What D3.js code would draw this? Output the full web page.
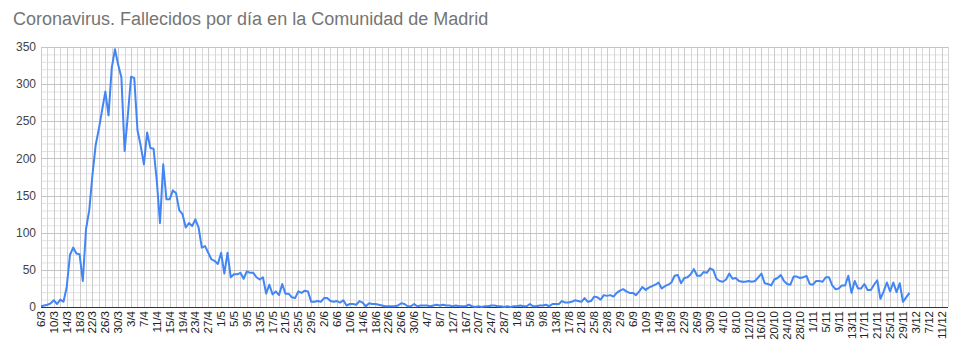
<!DOCTYPE html>
<html>
<head>
<meta charset="utf-8">
<script src="https://cdn.jsdelivr.net/npm/d3@7/dist/d3.min.js"></script>
<style>
  body { margin: 0; background: #fff; }
  svg { font-family: "Liberation Sans", Arial, sans-serif; }
</style>
</head>
<body>
<div id="okvir"></div>
<script>
// Primer dia de datos y fin del eje
var fechaInicio = new Date(2020, 2, 6);
var fechaFinEje = new Date(2020, 11, 13);
var fechaUltimaEtiqueta = new Date(2020, 11, 11);

// Fallecidos por dia desde el 6/3 (un valor por dia)
var fallecidos = [
  1, 2, 3, 5, 9, 4, 10, 7, 27, 70, 80, 72, 71, 35, 105, 130,
  178, 218, 240, 265, 290, 258, 322, 347, 326, 309, 210, 258, 310, 308, 238, 217, 192, 235, 214, 213,
  170, 113, 192, 145, 145, 157, 153, 130, 125, 107, 113, 109, 118, 107, 80, 82, 73, 64, 62, 58,
  73, 45, 73, 40, 44, 44, 46, 38, 48, 46, 46, 40, 37, 40, 18, 30, 17, 21, 16, 31,
  18, 18, 13, 12, 21, 19, 22, 21, 7, 7, 8, 7, 12, 12, 8, 7, 8, 6, 9,
  2, 4, 4, 3, 8, 6, 1, 5, 4, 4, 3, 2, 1, 1, 1, 1, 2, 5, 4, 1,
  1, 4, 1, 2, 2, 2, 1, 2, 3, 2, 3, 2, 2, 1, 2, 1, 1, 1, 3, 1,
  0, 1, 0, 1, 1, 2, 2, 1, 1, 0, 1, 0, 1, 1, 2, 1, 1, 4, 1, 1,
  2, 2, 3,
  1, 4, 4, 4, 8, 6, 6, 7, 9, 8, 7, 12, 7, 8, 14, 13, 10, 16, 15, 16, 14, 19,
  22, 24, 21, 19, 19, 16, 21, 27, 23, 26, 28, 30, 33, 25, 28, 30, 33, 42, 43, 32,
  39, 40, 44, 51, 42, 42, 47, 46, 52, 50, 38, 35, 34, 37, 45, 38, 39, 35, 34, 34,
  35, 34, 35, 40, 45, 32, 31, 29, 37, 39, 43, 35, 31, 30, 41, 41, 39, 40, 42, 31,
  30, 35, 35, 34, 40, 40, 29, 24, 25, 29, 29, 42, 19, 35, 25, 25, 31, 23, 23, 30,
  36, 11, 21, 33, 21, 33, 20, 32, 7, 13, 19
];

var ticksY = [0, 50, 100, 150, 200, 250, 300, 350];

var datos = fallecidos.map((v, i) => ({ fecha: d3.timeDay.offset(fechaInicio, i), valor: v }));

var width = 959;
var height = 352;
var margin = { top: 47, right: 11, bottom: 45, left: 41 };

var svg = d3.select("#okvir")
    .append("svg")
    .attr("width", width)
    .attr("height", height);

var x = d3.scaleTime()
    .domain([fechaInicio, fechaFinEje])
    .range([margin.left, width - margin.right]);

var y = d3.scaleLinear()
    .domain([0, 350])
    .range([height - margin.bottom, margin.top]);

// Rejilla horizontal secundaria (cada 10)
svg.append("g")
    .selectAll("line")
    .data(d3.range(0, 351, 10).filter(v => v % 50 !== 0))
    .enter()
    .append("line")
    .attr("x1", margin.left)
    .attr("x2", width - margin.right)
    .attr("y1", d => y(d) + 0.5)
    .attr("y2", d => y(d) + 0.5)
    .attr("stroke", "#e2e2e2");

// Rejilla vertical (cada 2 dias)
var diasRejilla = d3.timeDay.range(fechaInicio, d3.timeDay.offset(fechaFinEje, 1), 1)
    .filter((d, i) => i % 2 === 0);
svg.append("g")
    .selectAll("line")
    .data(diasRejilla)
    .enter()
    .append("line")
    .attr("x1", d => Math.round(x(d)) + 0.5)
    .attr("x2", d => Math.round(x(d)) + 0.5)
    .attr("y1", margin.top)
    .attr("y2", height - margin.bottom)
    .attr("stroke", (d, i) => i % 2 === 0 ? "#cccccc" : "#d6d6d6");

// Rejilla horizontal principal
svg.append("g")
    .selectAll("line")
    .data(ticksY)
    .enter()
    .append("line")
    .attr("x1", margin.left)
    .attr("x2", width - margin.right)
    .attr("y1", d => Math.round(y(d)) + 0.5)
    .attr("y2", d => Math.round(y(d)) + 0.5)
    .attr("stroke", "#c4c4c4");

// Etiquetas eje y
svg.append("g")
    .selectAll("text")
    .data(ticksY)
    .enter()
    .append("text")
    .attr("x", margin.left - 5)
    .attr("y", d => y(d))
    .attr("dy", "0.35em")
    .attr("text-anchor", "end")
    .style("font-size", "12px")
    .style("fill", "#444")
    .text(d => d);

// Etiquetas eje x (cada 4 dias, giradas)
var fmt = d3.timeFormat("%-d/%-m");
var ticksX = d3.timeDay.range(fechaInicio, d3.timeDay.offset(fechaUltimaEtiqueta, 1), 1)
    .filter((d, i) => i % 4 === 0);
svg.append("g")
    .selectAll("text")
    .data(ticksX)
    .enter()
    .append("text")
    .attr("transform", d => "translate(" + x(d) + "," + (height - margin.bottom + 4) + ") rotate(-90)")
    .attr("dy", "0.35em")
    .attr("text-anchor", "end")
    .style("font-size", "11.5px")
    .style("fill", "#222")
    .text(d => fmt(d));

// Linea base
svg.append("line")
    .attr("x1", margin.left)
    .attr("x2", width - margin.right)
    .attr("y1", y(0) + 0.5)
    .attr("y2", y(0) + 0.5)
    .attr("stroke", "#333")
    .attr("stroke-width", 1.2);

// Serie
var linea = d3.line()
    .x(d => x(d.fecha))
    .y(d => y(d.valor));

svg.append("path")
    .datum(datos)
    .attr("d", linea)
    .attr("fill", "none")
    .attr("stroke", "#4285f4")
    .attr("stroke-width", 2)
    .attr("stroke-linejoin", "round");

// Titulo
svg.append("text")
    .attr("x", 13)
    .attr("y", 25)
    .style("font-size", "18px")
    .style("fill", "#757575")
    .text("Coronavirus. Fallecidos por día en la Comunidad de Madrid");
</script>
</body>
</html>
